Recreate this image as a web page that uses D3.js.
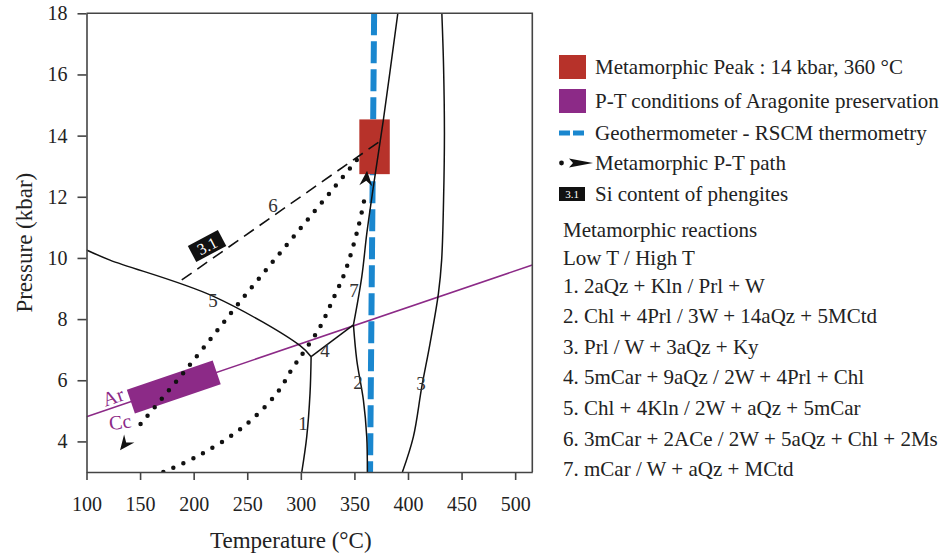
<!DOCTYPE html>
<html>
<head>
<meta charset="utf-8">
<script src="https://cdnjs.cloudflare.com/ajax/libs/d3/7.8.5/d3.min.js"></script>
<style>
  html, body { margin: 0; padding: 0; background: #fff; overflow: hidden; }
  svg { display: block; }
</style>
</head>
<body>
<div id="chart"></div>
<script>
// axis ticks
const xTicks = [100, 150, 200, 250, 300, 350, 400, 450, 500];
const yTicks = [4, 6, 8, 10, 12, 14, 16, 18];

// reaction curves, [T (°C), P (kbar)]
const reaction1 = [[309.6, 6.77], [308.6, 5.58], [305.5, 4.15], [300.9, 3.0]];
const reaction2 = [[349.1, 7.81], [352.2, 6.66], [358.4, 5.35], [361.5, 4.15], [362.1, 3.0]];
const reaction3 = [[394.8, 3.0], [405.0, 4.15], [412.9, 5.79], [420.6, 7.21], [428.4, 8.84],
                   [431.4, 9.93], [433.2, 11.9], [434.0, 14.09], [433.2, 16.25], [431.6, 18]];
const reaction4 = [[309.6, 6.77], [349.1, 7.81]];
const reaction5 = [[100, 10.26], [121.9, 9.93], [218, 8.75], [299.3, 7.13], [309.6, 6.77]];
const reaction6 = [[188.9, 9.28], [375.6, 13.86]];
const reaction7 = [[349.1, 7.81], [356.9, 9.39], [361.6, 10.81], [367.7, 12.33], [377.0, 14.51], [390.5, 18]];
const reactionLabels = [
  { label: '1', t: 302.1, p: 4.6 }, { label: '2', t: 353.4, p: 5.94 },
  { label: '3', t: 412.2, p: 5.91 }, { label: '4', t: 322.6, p: 6.99 },
  { label: '5', t: 218.1, p: 8.62 }, { label: '6', t: 274.1, p: 11.73 },
  { label: '7', t: 349.7, p: 8.95 }
];

// aragonite / calcite boundary and preserved conditions
const arCcLine = [[100, 4.81], [516, 9.77]];
const aragoniteT = [141.4, 221.5];

// metamorphic peak box
const peakT = [354.6, 383.0];
const peakP = [12.74, 14.53];

// RSCM thermometry
const rscm = [[368.4, 18], [364.6, 3]];

// P-T path (dotted)
const prograde = [[171.7, 3.0], [205.9, 3.56], [246.4, 4.48], [277.5, 5.57], [293.0, 6.44],
                  [300.9, 6.83], [318.0, 7.75], [330.4, 8.68], [341.3, 9.55], [353.7, 11.02], [359.8, 12.0]];
const progradeTip = [361.8, 12.85];
const retrograde = [[352.2, 13.2], [299.3, 10.95], [249.5, 8.84], [195.0, 6.44], [149.9, 4.55]];
const retrogradeTip = [131.3, 3.71];

// phengite Si label
const phengite = { label: '3.1', t: 212.5, p: 10.39 };

// legend
const legendItems = [
  'Metamorphic Peak : 14 kbar, 360 °C',
  'P-T conditions of Aragonite preservation',
  'Geothermometer - RSCM thermometry',
  'Metamorphic P-T path',
  'Si content of phengites'
];
const reactionText = [
  'Metamorphic reactions',
  'Low T / High T',
  '1. 2aQz + Kln / Prl + W',
  '2. Chl + 4Prl / 3W + 14aQz + 5MCtd',
  '3. Prl / W + 3aQz + Ky',
  '4. 5mCar + 9aQz / 2W + 4Prl + Chl',
  '5. Chl + 4Kln / 2W + aQz + 5mCar',
  '6. 3mCar + 2ACe / 2W + 5aQz + Chl + 2Ms',
  '7. mCar / W + aQz + MCtd'
];

const colors = { peak: '#b7322a', arag: '#8c2a87', rscm: '#1a87cf', axis: '#444', text: '#222' };
const font = '"Liberation Serif", "Times New Roman", serif';

const width = 948, height = 556;
const margin = { top: 13.3, left: 86.5 };
const innerWidth = 532.3 - margin.left;
const innerHeight = 472 - margin.top;

const svg = d3.select('#chart').append('svg')
  .attr('width', width).attr('height', height)
  .attr('font-family', font);

const defs = svg.append('defs');
defs.append('marker')
  .attr('id', 'dart')
  .attr('viewBox', '-16 -7 16 14')
  .attr('refX', 0).attr('refY', 0)
  .attr('markerWidth', 16).attr('markerHeight', 14)
  .attr('markerUnits', 'userSpaceOnUse')
  .attr('orient', 'auto')
  .append('path')
  .attr('d', 'M0,0 L-15,-6.5 L-10,0 L-15,6.5 Z')
  .attr('fill', '#111');

const x = d3.scaleLinear().domain([100, 516]).range([0, innerWidth]);
const y = d3.scaleLinear().domain([3, 18]).range([innerHeight, 0]);

const g = svg.append('g').attr('transform', `translate(${margin.left},${margin.top})`);

const line = d3.line().x(d => x(d[0])).y(d => y(d[1]));
const curve = d3.line().x(d => x(d[0])).y(d => y(d[1])).curve(d3.curveCatmullRom.alpha(0.5));

// clip
defs.append('clipPath').attr('id', 'plot')
  .append('rect').attr('width', innerWidth).attr('height', innerHeight);
const plot = g.append('g').attr('clip-path', 'url(#plot)');

// Ar/Cc boundary
plot.append('path').attr('d', line(arCcLine))
  .attr('fill', 'none').attr('stroke', colors.arag).attr('stroke-width', 1.6);

// RSCM thermometry
plot.append('path').attr('d', line(rscm))
  .attr('fill', 'none').attr('stroke', colors.rscm).attr('stroke-width', 6)
  .attr('stroke-dasharray', '22,6');

// aragonite preservation box (thick segment along the boundary)
const slope = (arCcLine[1][1] - arCcLine[0][1]) / (arCcLine[1][0] - arCcLine[0][0]);
const aragSeg = aragoniteT.map(t => [t, arCcLine[0][1] + (t - arCcLine[0][0]) * slope]);
plot.append('path').attr('d', line(aragSeg))
  .attr('fill', 'none').attr('stroke', colors.arag).attr('stroke-width', 25);

// peak box
plot.append('rect')
  .attr('x', x(peakT[0])).attr('y', y(peakP[1]))
  .attr('width', x(peakT[1]) - x(peakT[0]))
  .attr('height', y(peakP[0]) - y(peakP[1]))
  .attr('fill', colors.peak);

// reactions
[reaction1, reaction2, reaction3, reaction5, reaction7].forEach(r => {
  plot.append('path').attr('d', curve(r))
    .attr('fill', 'none').attr('stroke', '#111').attr('stroke-width', 1.5);
});
plot.append('path').attr('d', line(reaction4))
  .attr('fill', 'none').attr('stroke', '#111').attr('stroke-width', 1.5);
plot.append('path').attr('d', line(reaction6))
  .attr('fill', 'none').attr('stroke', '#111').attr('stroke-width', 1.6)
  .attr('stroke-dasharray', '12,7');

// P-T path
[[prograde, progradeTip], [retrograde, retrogradeTip]].forEach(([pts, tip]) => {
  plot.append('path').attr('d', curve(pts))
    .attr('fill', 'none').attr('stroke', '#111').attr('stroke-width', 4.5)
    .attr('stroke-linecap', 'round').attr('stroke-dasharray', '0,11');
  plot.append('path').attr('d', line([pts[pts.length - 1], tip]))
    .attr('fill', 'none').attr('stroke', 'none')
    .attr('marker-end', 'url(#dart)');
});

// labels inside the plot
g.selectAll('.rlabel').data(reactionLabels).enter().append('text')
  .attr('class', 'rlabel')
  .attr('x', d => x(d.t)).attr('y', d => y(d.p) + 7)
  .attr('text-anchor', 'middle')
  .attr('font-size', 19).attr('fill', '#333')
  .text(d => d.label);

// Ar / Cc labels
g.append('text')
  .attr('transform', `translate(${x(124.7)},${y(5.46)}) rotate(-19)`)
  .attr('text-anchor', 'middle').attr('y', 7)
  .attr('font-size', 20).attr('fill', colors.arag).text('Ar');
g.append('text')
  .attr('transform', `translate(${x(131.3)},${y(4.64)}) rotate(-8)`)
  .attr('text-anchor', 'middle').attr('y', 7)
  .attr('font-size', 20).attr('fill', colors.arag).text('Cc');

// phengite label
const ph = g.append('g')
  .attr('transform', `translate(${x(phengite.t)},${y(phengite.p)}) rotate(-28)`);
ph.append('rect').attr('x', -17).attr('y', -9).attr('width', 34).attr('height', 18).attr('fill', '#111');
ph.append('text').attr('text-anchor', 'middle').attr('y', 5.5)
  .attr('font-size', 16).attr('fill', '#fff').text(phengite.label);

// axes
const xAxis = d3.axisBottom(x).tickValues(xTicks).tickSize(8).tickSizeOuter(0).tickPadding(17);
const yAxis = d3.axisLeft(y).tickValues(yTicks).tickSize(9).tickSizeOuter(0).tickPadding(10);

const xAxisG = g.append('g').attr('transform', `translate(0,${innerHeight})`).call(xAxis);
const yAxisG = g.append('g').call(yAxis);
[xAxisG, yAxisG].forEach(a => {
  a.attr('font-family', font).attr('font-size', 20);
  a.selectAll('path,line').attr('stroke', colors.axis).attr('stroke-width', 1.6);
  a.selectAll('text').attr('fill', colors.text);
});
g.append('path')
  .attr('d', `M0,0H${innerWidth}V${innerHeight}`)
  .attr('fill', 'none').attr('stroke', colors.axis).attr('stroke-width', 1.6);

// axis labels
svg.append('text')
  .attr('transform', `translate(32,${margin.top + innerHeight / 2}) rotate(-90)`)
  .attr('text-anchor', 'middle')
  .attr('font-size', 23).attr('fill', colors.text).text('Pressure (kbar)');
svg.append('text')
  .attr('x', margin.left + x(300) - 10).attr('y', 548)
  .attr('text-anchor', 'middle')
  .attr('font-size', 23).attr('fill', colors.text).text('Temperature (°C)');

// legend
const legend = svg.append('g').attr('transform', 'translate(559,0)');
const legendY = [67, 101, 133, 163, 194];
legend.append('rect').attr('x', 0).attr('y', legendY[0] - 12).attr('width', 27).attr('height', 24).attr('fill', colors.peak);
legend.append('rect').attr('x', 0).attr('y', legendY[1] - 12).attr('width', 27).attr('height', 24).attr('fill', colors.arag);
legend.append('rect').attr('x', 0).attr('y', legendY[2] - 2.5).attr('width', 11).attr('height', 5).attr('fill', colors.rscm);
legend.append('rect').attr('x', 14).attr('y', legendY[2] - 2.5).attr('width', 11).attr('height', 5).attr('fill', colors.rscm);
legend.append('circle').attr('cx', 2.5).attr('cy', legendY[3]).attr('r', 2.4).attr('fill', '#111');
legend.append('path')
  .attr('d', `M10,${legendY[3] - 4.5} L34,${legendY[3]} L10,${legendY[3] + 4.5} L14,${legendY[3]} Z`)
  .attr('fill', '#111');
legend.append('rect').attr('x', 0).attr('y', legendY[4] - 7).attr('width', 26).attr('height', 14).attr('fill', '#111');
legend.append('text').attr('x', 13).attr('y', legendY[4] + 4)
  .attr('text-anchor', 'middle')
  .attr('font-size', 11).attr('fill', '#fff').text(phengite.label);

legend.selectAll('.litem').data(legendItems).enter().append('text')
  .attr('class', 'litem')
  .attr('x', 36).attr('y', (d, i) => legendY[i] + 7)
  .attr('font-size', 21).attr('fill', colors.text)
  .text(d => d);

const reactionY = [230, 258, 286, 316, 347, 377, 408, 439, 469];
legend.selectAll('.ritem').data(reactionText).enter().append('text')
  .attr('class', 'ritem')
  .attr('x', 4).attr('y', (d, i) => reactionY[i] + 7)
  .attr('font-size', 21).attr('fill', colors.text)
  .text(d => d);
</script>
</body>
</html>
